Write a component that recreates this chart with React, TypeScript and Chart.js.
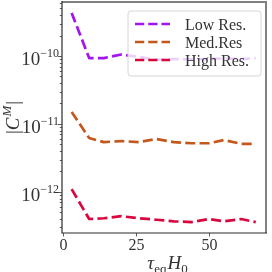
import React, { useEffect, useRef } from "react";
import { Chart, registerables } from "chart.js";

Chart.register(...registerables);

const xValues = [3, 9, 14, 20, 26, 32, 38, 44, 50, 55, 61, 66];
const lowRes = [4.3e-10, 9.3e-11, 9.3e-11, 1.05e-10, 9.7e-11, 8.8e-11, 9.0e-11, 8.9e-11, 9.0e-11, 9.2e-11, 9.0e-11, 9.3e-11];
const medRes = [1.5e-11, 6.2e-12, 5.4e-12, 5.6e-12, 5.4e-12, 6.0e-12, 5.4e-12, 5.2e-12, 5.2e-12, 5.8e-12, 5.1e-12, 5.1e-12];
const highRes = [1.1e-12, 4.0e-13, 4.1e-13, 4.4e-13, 4.1e-13, 3.9e-13, 3.7e-13, 3.6e-13, 4.0e-13, 3.7e-13, 4.0e-13, 3.6e-13];
const seriesLabels = ["Low Res.", "Med.Res", "High Res."];
const seriesColors = ["#a214f0", "#c4581c", "#d8083e"];
const xTicks = [0, 25, 50];
const yTickExponents = [-10, -11, -12];

const SERIF = '"Liberation Serif", "DejaVu Serif", serif';
const TEXT = "#333";

const mplPlugin = {
  id: "mplPlugin",
  afterDatasetsDraw(chart: any) {
    const ctx = chart.ctx as CanvasRenderingContext2D;
    const a = chart.chartArea;
    // legend
    const bx = a.left + 66;
    const by = a.top + 9;
    const bw = 133;
    const bh = 65;
    const r = 3;
    ctx.save();
    ctx.beginPath();
    ctx.moveTo(bx + r, by);
    ctx.lineTo(bx + bw - r, by);
    ctx.arcTo(bx + bw, by, bx + bw, by + r, r);
    ctx.lineTo(bx + bw, by + bh - r);
    ctx.arcTo(bx + bw, by + bh, bx + bw - r, by + bh, r);
    ctx.lineTo(bx + r, by + bh);
    ctx.arcTo(bx, by + bh, bx, by + bh - r, r);
    ctx.lineTo(bx, by + r);
    ctx.arcTo(bx, by, bx + r, by, r);
    ctx.closePath();
    ctx.fillStyle = "rgba(255,255,255,0.8)";
    ctx.fill();
    ctx.strokeStyle = "#d6d6d6";
    ctx.lineWidth = 1;
    ctx.stroke();
    chart.data.datasets.forEach((ds: any, i: number) => {
      const ry = by + 13 + i * 18;
      ctx.beginPath();
      ctx.setLineDash([9.25, 4]);
      ctx.lineWidth = 2.5;
      ctx.lineCap = "butt";
      ctx.strokeStyle = ds.borderColor;
      ctx.moveTo(bx + 7, ry);
      ctx.lineTo(bx + 42, ry);
      ctx.stroke();
      ctx.setLineDash([]);
      ctx.fillStyle = TEXT;
      ctx.font = `16px ${SERIF}`;
      ctx.textAlign = "left";
      ctx.textBaseline = "alphabetic";
      ctx.fillText(ds.label, bx + 57, ry + 5.5);
    });
    ctx.restore();
  },
  afterDraw(chart: any) {
    const ctx = chart.ctx as CanvasRenderingContext2D;
    const a = chart.chartArea;
    const xs = chart.scales.x;
    const ys = chart.scales.y;
    ctx.save();
    // spines
    ctx.strokeStyle = "#808080";
    ctx.lineWidth = 2;
    ctx.beginPath();
    ctx.moveTo(a.left, a.top);
    ctx.lineTo(a.right, a.top);
    ctx.lineTo(a.right, a.bottom);
    ctx.stroke();
    ctx.strokeStyle = "#2a2a2a";
    ctx.lineWidth = 1.2;
    ctx.beginPath();
    ctx.moveTo(a.left, a.top - 1);
    ctx.lineTo(a.left, a.bottom);
    ctx.lineTo(a.right + 1, a.bottom);
    ctx.stroke();

    // y ticks (major + minor)
    ctx.strokeStyle = "#333";
    ctx.lineWidth = 0.8;
    for (let e = -13; e <= -10; e++) {
      for (let m = 1; m <= 9; m++) {
        const v = m * Math.pow(10, e);
        if (v < ys.min || v > ys.max) continue;
        const py = Math.round(ys.getPixelForValue(v)) + 0.5;
        const len = m === 1 ? 4 : 2.2;
        ctx.beginPath();
        ctx.moveTo(a.left - len, py);
        ctx.lineTo(a.left, py);
        ctx.stroke();
      }
    }
    // y tick labels
    ctx.fillStyle = TEXT;
    ctx.textBaseline = "alphabetic";
    yTickExponents.forEach((e) => {
      const py = ys.getPixelForValue(Math.pow(10, e));
      const expStr = "\u2212" + String(Math.abs(e));
      ctx.font = `12px ${SERIF}`;
      const ew = ctx.measureText(expStr).width;
      const right = a.left - 3;
      ctx.textAlign = "left";
      ctx.fillText(expStr, right - ew, py + 1.5);
      ctx.font = `19px ${SERIF}`;
      ctx.textAlign = "right";
      ctx.fillText("10", right - ew, py + 9);
    });

    // x ticks
    ctx.strokeStyle = "#333";
    ctx.lineWidth = 0.8;
    ctx.font = `16px ${SERIF}`;
    ctx.textAlign = "center";
    xTicks.forEach((t) => {
      const px = Math.round(xs.getPixelForValue(t)) + 0.5;
      ctx.beginPath();
      ctx.moveTo(px, a.bottom);
      ctx.lineTo(px, a.bottom + 3.5);
      ctx.stroke();
      ctx.fillText(String(t), px, a.bottom + 17);
    });

    // x title: tau_eq H_0
    {
      const big = `italic 19px ${SERIF}`;
      const small = `13px ${SERIF}`;
      const parts: [string, string, number][] = [
        ["\u03c4", big, 0],
        ["eq", small, 3.5],
        ["H", big, 0],
        ["0", small, 3.5],
      ];
      let total = 0;
      const widths = parts.map(([s, f]) => {
        ctx.font = f;
        const w = ctx.measureText(s).width;
        total += w;
        return w;
      });
      let x = (a.left + a.right) / 2 + 3 - total / 2;
      const base = a.bottom + 36;
      ctx.textAlign = "left";
      parts.forEach(([s, f, dy], i) => {
        ctx.font = f;
        ctx.fillText(s, x, base + dy);
        x += widths[i] + (i === 1 ? 1 : 0);
      });
    }

    // y title: |C^M|
    {
      ctx.save();
      ctx.translate(19, (a.top + a.bottom) / 2 + 1);
      ctx.rotate(-Math.PI / 2);
      const big = `19px ${SERIF}`;
      const bigI = `italic 19px ${SERIF}`;
      const small = `italic 13px ${SERIF}`;
      const parts: [string, string, number][] = [
        ["|", big, 0],
        ["C", bigI, 0],
        ["M", small, -8],
        ["|", big, 0],
      ];
      let total = 0;
      const widths = parts.map(([s, f]) => {
        ctx.font = f;
        const w = ctx.measureText(s).width;
        total += w;
        return w;
      });
      let x = -total / 2;
      ctx.textAlign = "left";
      parts.forEach(([s, f, dy], i) => {
        ctx.font = f;
        ctx.fillText(s, x, dy);
        x += widths[i] + (i === 1 ? 1 : 0) + (i === 2 ? 1 : 0);
      });
      ctx.restore();
    }
    ctx.restore();
  },
};

export default function App() {
  const canvasRef = useRef<HTMLCanvasElement>(null);

  useEffect(() => {
    document.body.style.margin = "0";
    const canvas = canvasRef.current;
    if (!canvas) return;
    const mk = (label: string, values: number[], color: string) => ({
      label,
      data: xValues.map((x, i) => ({ x, y: values[i] })),
      borderColor: color,
      backgroundColor: color,
      borderWidth: 2.7,
      borderDash: [10, 4.3],
      borderCapStyle: "butt" as const,
      borderJoinStyle: "round" as const,
      pointRadius: 0,
      tension: 0,
      fill: false,
    });
    const chart = new Chart(canvas, {
      type: "line",
      data: {
        datasets: [
          mk(seriesLabels[0], lowRes, seriesColors[0]),
          mk(seriesLabels[1], medRes, seriesColors[1]),
          mk(seriesLabels[2], highRes, seriesColors[2]),
        ],
      },
      options: {
        animation: false,
        responsive: false,
        devicePixelRatio: 1,
        layout: { padding: { left: 62, top: 2, right: 6, bottom: 39 } },
        plugins: { legend: { display: false }, tooltip: { enabled: false } },
        scales: {
          x: { type: "linear", display: false, min: -0.3, max: 69.5 },
          y: { type: "logarithmic", display: false, min: 2.49e-13, max: 6.22e-10 },
        },
      },
      plugins: [mplPlugin],
    });
    return () => chart.destroy();
  }, []);

  return (
    <div style={{ width: 272, height: 272, background: "#fff" }}>
      <canvas ref={canvasRef} width={272} height={272} style={{ display: "block" }} />
    </div>
  );
}
